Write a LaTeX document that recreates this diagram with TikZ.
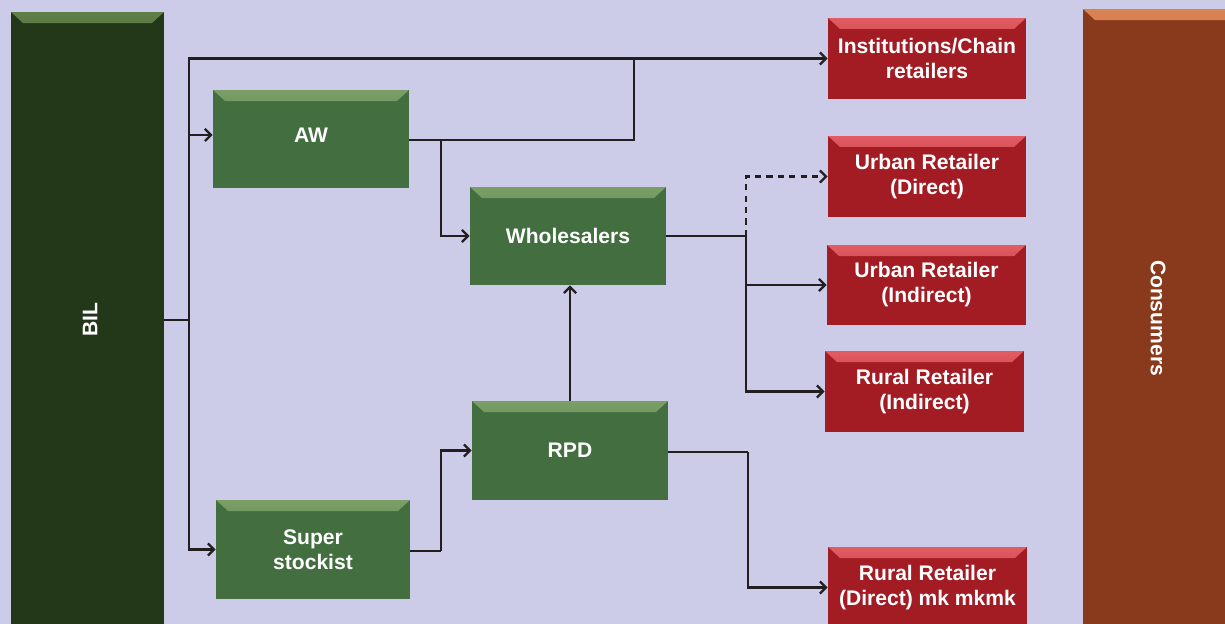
\documentclass[tikz,border=0pt]{standalone}
\usepackage{fontspec}
\setmainfont{Liberation Sans}
\usetikzlibrary{arrows.meta}
\definecolor{bg}{RGB}{204,204,232}
\definecolor{gbase}{RGB}{66,110,64}
\definecolor{ghi}{RGB}{122,158,102}
\definecolor{rbase}{RGB}{163,28,36}
\definecolor{rhi}{RGB}{226,92,100}
\definecolor{bilbase}{RGB}{34,56,24}
\definecolor{bilhi}{RGB}{95,125,70}
\definecolor{conbase}{RGB}{137,58,28}
\definecolor{conhi}{RGB}{218,130,82}
\definecolor{ln}{RGB}{35,31,32}
\tikzset{
  bev/.style n args={2}{draw=none, fill=#1, inner sep=0pt,
    path picture={\fill[top color=#2, bottom color=#1]
      (path picture bounding box.north west) -- (path picture bounding box.north east)
      -- ([xshift=-0.24cm,yshift=-0.22cm]path picture bounding box.north east)
      -- ([xshift=0.24cm,yshift=-0.22cm]path picture bounding box.north west) -- cycle;}},
  txt/.style={text=white, font=\bfseries\fontsize{12}{14.2}\selectfont, align=center},
  gbox/.style={bev={gbase}{ghi}, txt},
  rbox/.style={bev={rbase}{rhi}, txt},
  arr/.style={draw=ln, line width=1.4pt, -{Straight Barb[length=3.5pt,width=7pt,line width=1.3pt]}},
  ln/.style={draw=ln, line width=1.4pt},
}
\begin{document}
\begin{tikzpicture}[x=0.02cm,y=-0.02cm]
\useasboundingbox (0,0) rectangle (1225,624);
\clip (0,0) rectangle (1225,624);
\fill[bg] (0,0) rectangle (1225,624);
% side bars
\node[bev={bilbase}{bilhi}, minimum width=3.06cm, minimum height=12.32cm] (BIL) at (87.5,320) {};
\node[txt, rotate=90] (biltxt) at (90,320) {BIL};
\node[bev={conbase}{conhi}, minimum width=3.14cm, minimum height=12.38cm] (CON) at (1161.5,318.5) {};
\node[txt, rotate=-90] (contxt) at (1158,318) {Consumers};
% green boxes
\node[gbox, minimum width=3.92cm, minimum height=1.96cm] (AW) at (311,139) {};
\node[txt] (awtxt) at (311,135) {AW};
\node[gbox, minimum width=3.92cm, minimum height=1.96cm] (WS) at (568,236) {Wholesalers};
\node[gbox, minimum width=3.92cm, minimum height=1.98cm] (RPD) at (570,450.5) {RPD};
\node[gbox, minimum width=3.88cm, minimum height=1.98cm] (SS) at (313,549.5) {Super\\stockist};
% red boxes
\node[rbox, minimum width=3.96cm, minimum height=1.62cm] (INST) at (927,58.5) {Institutions/Chain\\retailers};
\node[rbox, minimum width=3.96cm, minimum height=1.62cm] (UD) at (927,176.5) {\rule{0pt}{0.1cm}Urban Retailer\\(Direct)};
\node[rbox, minimum width=3.98cm, minimum height=1.60cm] (UI) at (926.5,285) {Urban Retailer\\(Indirect)};
\node[rbox, minimum width=3.98cm, minimum height=1.62cm] (RI) at (924.5,391.5) {Rural Retailer\\(Indirect)};
\node[rbox, minimum width=3.98cm, minimum height=1.62cm] (RD) at (927.5,587.5) {};
\node[txt] (rdtxt) at (927.5,588) {Rural Retailer\\(Direct) mk mkmk};
% connectors
\coordinate (t) at (189,320);
\draw[ln] (BIL.east) -- (t);
\draw[arr] (t) |- (awtxt.west -| AW.west);
\draw[arr] (t) |- (INST.west);
\draw[arr] (t) |- (SS.west);
\coordinate (a1) at (441,140);
\coordinate (a2) at (634,58.5);
\draw[ln] (AW.east |- a1) -- (a1) -| (a2);
\draw[arr] (a1) |- (WS.west);
\coordinate (w1) at (746,236);
\draw[ln] (WS.east) -- (w1);
\draw[arr, dash pattern=on 3.5pt off 3pt] (w1) |- (UD.west);
\draw[arr] (w1) |- (UI.west);
\draw[arr] (w1) |- (RI.west);
\draw[arr] (RPD.north) -- (RPD.north |- WS.south);
\coordinate (s1) at (441,551);
\draw[ln] (SS.east |- s1) -- (s1);
\draw[arr] (s1) |- (RPD.west);
\coordinate (r1) at (748,452);
\draw[ln] (RPD.east |- r1) -- (r1);
\draw[arr] (r1) |- (RD.west);
\end{tikzpicture}
\end{document}
